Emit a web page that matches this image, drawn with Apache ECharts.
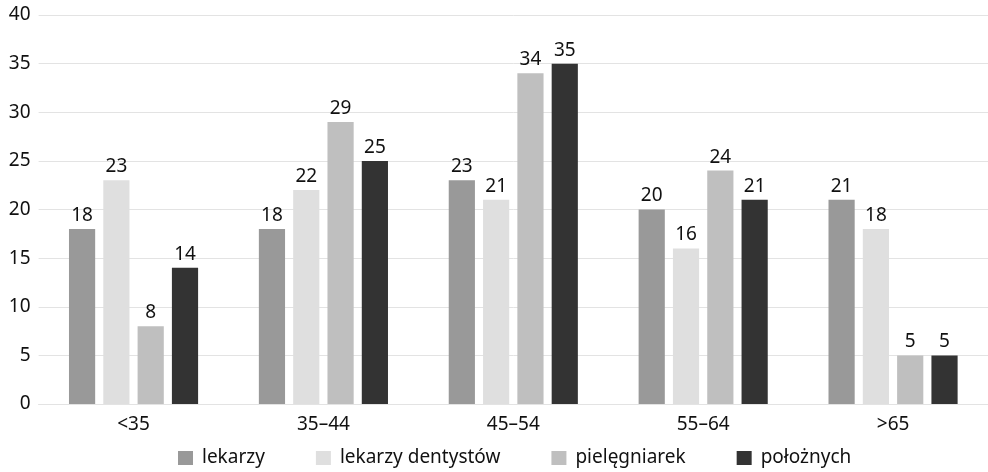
<!DOCTYPE html>
<html>
<head>
<meta charset="utf-8">
<script src="https://cdn.jsdelivr.net/npm/echarts@6/dist/echarts.min.js"></script>
<style>
  html, body { margin: 0; padding: 0; background: #fff; }
  #chart { width: 988px; height: 472px; }
</style>
</head>
<body>
<div id="chart"></div>
<script>
// Age groups on the category axis
const ageGroups = ['<35', '35–44', '45–54', '55–64', '>65'];

// Share (%) per profession in each age group
const lekarzy = [18, 18, 23, 20, 21];
const lekarzyDentystow = [23, 22, 21, 16, 18];
const pielegniarek = [8, 29, 34, 24, 5];
const poloznych = [14, 25, 35, 21, 5];

const seriesNames = ['lekarzy', 'lekarzy dentystów', 'pielęgniarek', 'położnych'];
const seriesColors = ['#999999', '#dfdfdf', '#bfbfbf', '#333333'];
const seriesData = [lekarzy, lekarzyDentystow, pielegniarek, poloznych];

const FONT = '"Noto Sans", sans-serif';
const TEXT = '#111111';
const SIZE = 19;

const chart = echarts.init(document.getElementById('chart'), null, { renderer: 'canvas' });

chart.setOption({
  animation: false,
  textStyle: { fontFamily: FONT },
  grid: { left: 38.6, top: 15, width: 959, bottom: 68, containLabel: false },
  legend: {
    data: seriesNames,
    top: 446,
    left: 178,
    padding: 0,
    icon: 'rect',
    itemWidth: 15,
    itemHeight: 14,
    itemGap: 51,
    textStyle: { fontFamily: FONT, fontSize: SIZE, color: TEXT, lineHeight: 24, padding: [0, 0, 0, 4] }
  },
  xAxis: {
    type: 'category',
    data: ageGroups,
    axisTick: { show: false },
    axisLine: { show: true, lineStyle: { color: '#e3e3e3', width: 1 } },
    axisLabel: { fontFamily: FONT, fontSize: SIZE, color: TEXT, margin: 11 }
  },
  yAxis: {
    type: 'value',
    min: 0,
    max: 40,
    interval: 5,
    axisLine: { show: false },
    axisTick: { show: false },
    axisLabel: { fontFamily: FONT, fontSize: SIZE, color: TEXT, margin: 8 },
    splitLine: { lineStyle: { color: '#e3e3e3', width: 1 } }
  },
  series: seriesData.map((vals, i) => ({
    name: seriesNames[i],
    type: 'bar',
    data: vals,
    barGap: '31%',
    barCategoryGap: '32%',
    itemStyle: { color: seriesColors[i] },
    label: {
      show: true,
      position: 'top',
      distance: 4,
      fontFamily: FONT,
      fontSize: SIZE,
      color: TEXT
    }
  }))
});
</script>
</body>
</html>
